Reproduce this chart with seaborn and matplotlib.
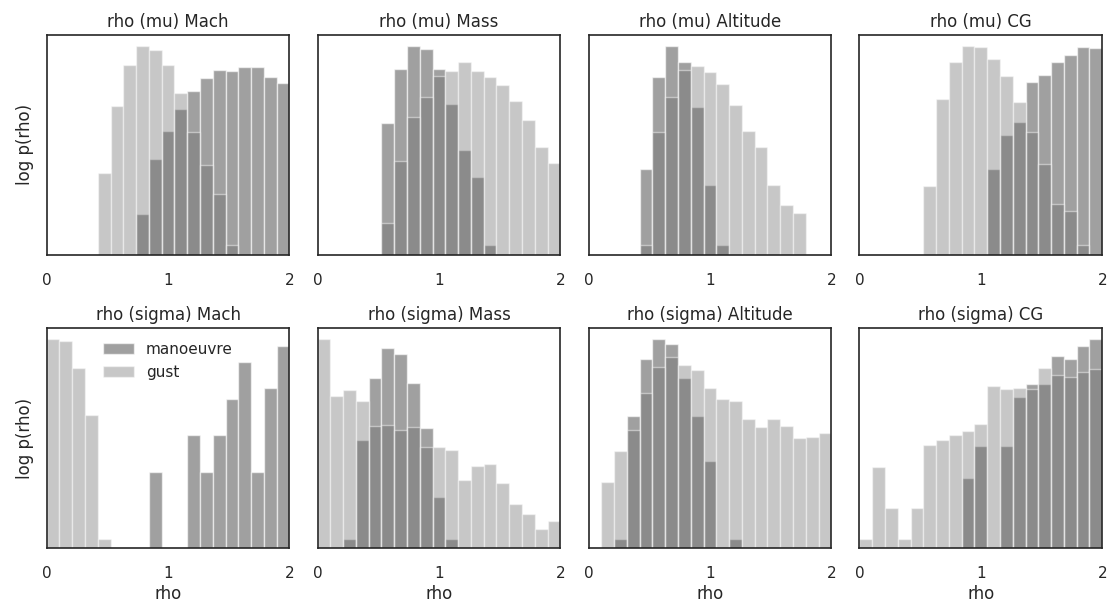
import numpy as np
import pandas as pd
import matplotlib
matplotlib.use("Agg")
import matplotlib.pyplot as plt
import seaborn as sns

# 19 bins on [0, 2]
n_bins = 19
rho_range = (0, 2)
nan = np.nan

titles = ['rho (mu) Mach', 'rho (mu) Mass', 'rho (mu) Altitude', 'rho (mu) CG',
          'rho (sigma) Mach', 'rho (sigma) Mass', 'rho (sigma) Altitude', 'rho (sigma) CG']

# log10 p(rho) per bin (nan = empty bin)
mu_mach_man = [nan, nan, nan, nan, nan, nan, nan, -2.27, -1.25, -0.74, -0.35, -0.02,
               0.21, 0.36, 0.35, 0.41, 0.41, 0.24, 0.12]
mu_mach_gust = [nan, nan, nan, nan, -1.52, -0.30, 0.46, 0.80, 0.73, 0.45, -0.06, -0.77,
                -1.36, -1.90, -2.82, nan, nan, nan, nan]

mu_mass_man = [nan, nan, nan, nan, nan, -0.60, 0.39, 0.80, 0.75, 0.38, -0.25, -1.09,
               -1.59, -2.83, nan, nan, nan, nan, nan]
mu_mass_gust = [nan, nan, nan, nan, nan, -2.42, -1.29, -0.50, -0.13, 0.26, 0.34, 0.50,
                0.35, 0.24, 0.09, -0.20, -0.54, -1.04, -1.34]

mu_alt_man = [nan, nan, nan, nan, -1.44, 0.23, 0.80, 0.50, -0.31, -1.73, -2.83, nan,
              nan, nan, nan, nan, nan, nan, nan]
mu_alt_gust = [nan, nan, nan, nan, -2.83, -0.77, -0.13, 0.36, 0.44, 0.33, 0.10, -0.28,
               -0.74, -1.04, -1.74, -2.10, -2.25, nan, nan]

mu_cg_man = [nan, nan, nan, nan, nan, nan, nan, nan, nan, nan, -1.45, -0.83, -0.58,
             0.15, 0.27, 0.50, 0.64, 0.78, 0.76]
mu_cg_gust = [nan, nan, nan, nan, nan, -1.75, -0.16, 0.51, 0.80, 0.78, 0.56, 0.26,
              -0.22, -0.77, -1.35, -2.07, -2.21, -2.83, nan]

sig_mach_man = [nan, nan, nan, nan, nan, nan, nan, nan, -1.62, nan, nan, -0.95, -1.62,
                -0.95, -0.29, 0.38, -1.62, -0.08, 0.67]
sig_mach_gust = [0.80, 0.76, 0.27, -0.58, -2.84, nan, nan, nan, nan, nan, nan, nan, nan,
                 nan, nan, nan, nan, nan, nan]

sig_mass_man = [nan, nan, -2.84, -1.04, 0.09, 0.64, 0.53, 0.00, -0.81, -2.08, -2.84, nan,
                nan, nan, nan, nan, nan, nan, nan]
sig_mass_gust = [0.80, -0.23, -0.12, -0.33, -0.78, -0.77, -0.86, -0.79, -1.16, -1.16,
                 -1.22, -1.77, -1.51, -1.48, -1.81, -2.21, -2.39, -2.65, -2.51]

sig_alt_man = [nan, nan, -2.84, -0.60, 0.44, 0.80, 0.71, 0.09, -0.60, -1.42, nan, -2.84,
               nan, nan, nan, nan, nan, nan, nan]
sig_alt_gust = [nan, -1.80, -1.24, -0.86, -0.17, 0.29, 0.47, 0.34, 0.24, -0.08, -0.29,
                -0.32, -0.66, -0.79, -0.66, -0.78, -1.00, -0.98, -0.91]

sig_cg_man = [nan, nan, nan, nan, nan, nan, nan, nan, -1.72, -1.14, nan, -1.14, -0.25,
              -0.02, -0.02, 0.49, 0.44, 0.68, 0.80]
sig_cg_gust = [-2.84, -1.52, -2.27, -2.84, -2.27, -1.13, -1.04, -0.95, -0.88, -0.74,
               -0.06, -0.11, -0.08, -0.10, 0.28, 0.15, 0.12, 0.21, 0.26]

manoeuvre = [mu_mach_man, mu_mass_man, mu_alt_man, mu_cg_man,
             sig_mach_man, sig_mass_man, sig_alt_man, sig_cg_man]
gust = [mu_mach_gust, mu_mass_gust, mu_alt_gust, mu_cg_gust,
        sig_mach_gust, sig_mass_gust, sig_alt_gust, sig_cg_gust]


def to_density(log_p):
    log_p = np.array(log_p, dtype=float)
    return np.where(np.isnan(log_p), 0.0, 10 ** np.nan_to_num(log_p))


def main():
    sns.set_theme(style='white', context='notebook')
    plt.rcParams['font.family'] = ['DejaVu Sans']

    fig, axes = plt.subplots(2, 4, figsize=(11.1, 6.04), dpi=100)
    fig.subplots_adjust(left=0.042, right=0.993, top=0.942, bottom=0.093,
                        wspace=0.116, hspace=0.336)

    edges = np.linspace(rho_range[0], rho_range[1], n_bins + 1)
    centers = 0.5 * (edges[:-1] + edges[1:])

    for k, ax in enumerate(axes.flat):
        df = pd.DataFrame({'rho': centers,
                           'man': to_density(manoeuvre[k]),
                           'gust': to_density(gust[k])})
        sns.histplot(data=df, x='rho', weights='man', bins=n_bins, binrange=rho_range,
                     ax=ax, color='dimgray', alpha=0.63, edgecolor=(1, 1, 1, 0.6),
                     linewidth=1, label='manoeuvre')
        sns.histplot(data=df, x='rho', weights='gust', bins=n_bins, binrange=rho_range,
                     ax=ax, color='dimgray', alpha=0.37, edgecolor=(1, 1, 1, 0.45),
                     linewidth=1, label='gust')
        ax.set_yscale('log')
        ax.set_ylim(1e-3, 1e1)
        ax.set_xlim(0, 2)
        ax.set_xticks([0, 1, 2])
        ax.set_yticks([])
        ax.set_yticks([], minor=True)
        ax.set_title(titles[k], fontsize=12)
        ax.tick_params(axis='x', labelsize=11, pad=7)
        ax.set_ylabel('log p(rho)' if k % 4 == 0 else '', fontsize=12, labelpad=9)
        ax.set_xlabel('rho' if k >= 4 else '', fontsize=12, labelpad=3)
        for s in ax.spines.values():
            s.set_color('#262626')
            s.set_linewidth(1.2)

    axes[1, 0].legend(loc='upper center', frameon=False, fontsize=11)

    plt.savefig('out.png', dpi=100)
    plt.close()


if __name__ == "__main__":
    main()
